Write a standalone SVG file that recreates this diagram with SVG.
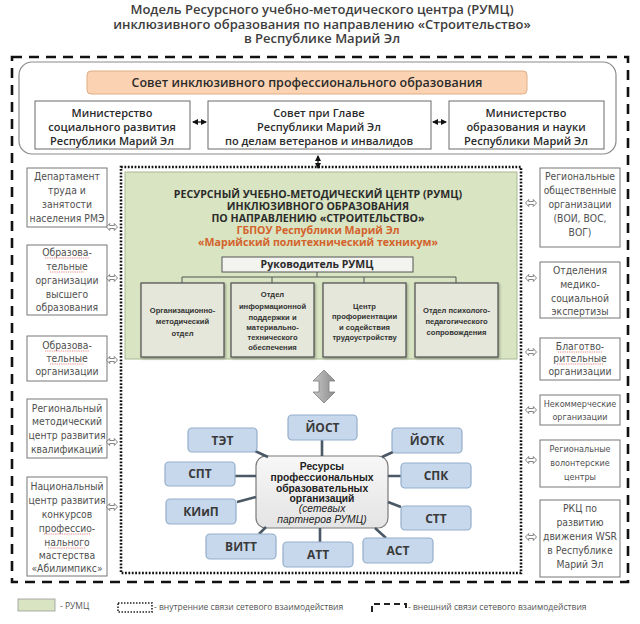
<svg xmlns="http://www.w3.org/2000/svg" width="640" height="624" viewBox="0 0 640 624">
<defs>
<style>
.title{font-family:"Open Sans","Liberation Sans",sans-serif;font-size:13px;font-weight:600;fill:#3d3d3d;text-anchor:middle}
.top{font-family:"Open Sans","Liberation Sans",sans-serif;font-size:11px;font-weight:600;fill:#2b2b2b;text-anchor:middle}
.council{font-family:"Open Sans","Liberation Sans",sans-serif;font-size:12.5px;font-weight:600;fill:#2b2b2b;text-anchor:middle}
.col{font-family:"Liberation Sans Narrow","DejaVu Sans Condensed","Liberation Sans",sans-serif;font-size:10.3px;fill:#505050;text-anchor:middle}
.cols{font-family:"Liberation Sans Narrow","DejaVu Sans Condensed","Liberation Sans",sans-serif;font-size:9px;fill:#505050;text-anchor:middle}
.hdr{font-family:"Open Sans","Liberation Sans",sans-serif;font-size:10.6px;font-weight:700;fill:#2b2b2b;text-anchor:middle}
.hdro{font-family:"Open Sans","Liberation Sans",sans-serif;font-size:10.6px;font-weight:700;fill:#d4622b;text-anchor:middle}
.dept{font-family:"Liberation Sans",sans-serif;font-size:7.6px;font-weight:700;fill:#333;text-anchor:middle}
.sat{font-family:"Open Sans","Liberation Sans",sans-serif;font-size:12px;font-weight:700;fill:#3a3a3a;text-anchor:middle}
.ctr{font-family:"Liberation Sans",sans-serif;font-size:10.3px;font-weight:700;fill:#222;text-anchor:middle}
.ctri{font-family:"Liberation Sans",sans-serif;font-size:10.3px;font-style:italic;fill:#222;text-anchor:middle}
.leg{font-family:"Open Sans","Liberation Sans",sans-serif;font-size:8.5px;fill:#555}
.box{fill:#fff;stroke:#6b6b6b;stroke-width:1}
.cbox{fill:#fff;stroke:#777;stroke-width:1}
.dbox{fill:#e4e7da;stroke:#4d4d4d;stroke-width:1.2}
.satb{fill:#c7d8ec;stroke:#93aecb;stroke-width:1.2}
.spoke{stroke:#4b5966;stroke-width:2.6;fill:none}
.tree{stroke:#555;stroke-width:1;fill:none}
.ha{fill:#fff;stroke:#666;stroke-width:0.8}
.wavy{fill:none;stroke:#d33;stroke-width:0.6;stroke-dasharray:1 0.8}
</style>
<marker id="ah" viewBox="0 0 6 6" refX="5" refY="3" markerWidth="5" markerHeight="5" orient="auto-start-reverse"><path d="M0,0 L6,3 L0,6 z" fill="#111"/></marker>
<path id="hdbl" d="M-5.5,0 L-2.3,-3.5 L-2.3,-1.5 L2.3,-1.5 L2.3,-3.5 L5.5,0 L2.3,3.5 L2.3,1.5 L-2.3,1.5 L-2.3,3.5 Z"/>
<linearGradient id="garr" x1="0" y1="0" x2="1" y2="0"><stop offset="0" stop-color="#c8c8c8"/><stop offset="0.5" stop-color="#a9a9a9"/><stop offset="1" stop-color="#8e8e8e"/></linearGradient>
<linearGradient id="gctr" x1="0" y1="0" x2="0" y2="1"><stop offset="0" stop-color="#f7f7f7"/><stop offset="1" stop-color="#e4e4e4"/></linearGradient>
<filter id="sh" x="-10%" y="-10%" width="130%" height="130%"><feDropShadow dx="1.2" dy="1.2" stdDeviation="0.8" flood-color="#000" flood-opacity="0.3"/></filter>
</defs>

<g id="title">
<text class="title" x="322" y="14">Модель Ресурсного учебно-методического центра (РУМЦ)</text>
<text class="title" x="322" y="28.5">инклюзивного образования по направлению «Строительство»</text>
<text class="title" x="322" y="43">в Республике Марий Эл</text>
</g>

<g id="outer-boundary">
<rect x="12" y="57" width="616" height="525" fill="none" stroke="#111" stroke-width="2.6" stroke-dasharray="10 7"/>
</g>
<g id="inner-boundary">
<rect x="121" y="167" width="400" height="406" fill="none" stroke="#111" stroke-width="2.6" stroke-dasharray="1.8 1.6"/>
</g>

<g id="governance">
<rect x="19" y="62" width="597" height="92" rx="13" fill="#fff" stroke="#8a8a8a" stroke-width="1.2"/>
</g>
<g id="council">
<rect x="87" y="71" width="440" height="23" rx="4" fill="#fbd3b2" stroke="#e0ad85" stroke-width="1"/>
<text class="council" x="307" y="87">Совет инклюзивного профессионального образования</text>
</g>
<g id="min-social">
<rect class="box" x="35" y="101" width="155" height="48"/>
<text class="top" x="112" y="117">Министерство</text>
<text class="top" x="112" y="131">социального развития</text>
<text class="top" x="112" y="145">Республики Марий Эл</text>
</g>
<g id="council-head">
<rect class="box" x="208" y="101" width="223" height="48"/>
<text class="top" x="319" y="117">Совет при Главе</text>
<text class="top" x="319" y="131">Республики Марий Эл</text>
<text class="top" x="319" y="145">по делам ветеранов и инвалидов</text>
</g>
<g id="min-edu">
<rect class="box" x="449" y="101" width="155" height="48"/>
<text class="top" x="526" y="117">Министерство</text>
<text class="top" x="526" y="131">образования и науки</text>
<text class="top" x="526" y="145">Республики Марий Эл</text>
</g>

<g id="rumc">
<rect x="125" y="172" width="392" height="187" fill="#d8e4c2" stroke="#a9b890" stroke-width="1"/>
<text class="hdr" x="318" y="198">РЕСУРСНЫЙ УЧЕБНО-МЕТОДИЧЕСКИЙ ЦЕНТР (РУМЦ)</text>
<text class="hdr" x="318" y="210">ИНКЛЮЗИВНОГО ОБРАЗОВАНИЯ</text>
<text class="hdr" x="318" y="222">ПО НАПРАВЛЕНИЮ «СТРОИТЕЛЬСТВО»</text>
<text class="hdro" x="318" y="233.5">ГБПОУ Республики Марий Эл</text>
<text class="hdro" x="318" y="245.5">«Марийский политехнический техникум»</text>
</g>
<g id="head-rumc">
<rect x="222" y="257" width="191" height="15" fill="#f3f3f0" stroke="#555" stroke-width="1"/>
<text class="hdr" x="317" y="268" style="font-size:10.5px">Руководитель РУМЦ</text>
</g>
<g id="dept1">
<rect class="dbox" x="141" y="283" width="83" height="74" filter="url(#sh)"/>
<text class="dept" x="182.5" y="313">Организационно-</text>
<text class="dept" x="182.5" y="324">методический</text>
<text class="dept" x="182.5" y="336">отдел</text>
</g>
<g id="dept2">
<rect class="dbox" x="231" y="283" width="83" height="74" filter="url(#sh)"/>
<text class="dept" x="272.5" y="297">Отдел</text>
<text class="dept" x="272.5" y="309">информационной</text>
<text class="dept" x="272.5" y="320">поддержки и</text>
<text class="dept" x="272.5" y="330">материально-</text>
<text class="dept" x="272.5" y="340">технического</text>
<text class="dept" x="272.5" y="350">обеспечения</text>
</g>
<g id="dept3">
<rect class="dbox" x="323" y="283" width="83" height="74" filter="url(#sh)"/>
<text class="dept" x="364.5" y="309">Центр</text>
<text class="dept" x="364.5" y="319">профориентации</text>
<text class="dept" x="364.5" y="330">и содействия</text>
<text class="dept" x="364.5" y="340">трудоустройству</text>
</g>
<g id="dept4">
<rect class="dbox" x="415" y="283" width="83" height="74" filter="url(#sh)"/>
<text class="dept" x="456.5" y="313">Отдел психолого-</text>
<text class="dept" x="456.5" y="324">педагогического</text>
<text class="dept" x="456.5" y="335">сопровождения</text>
</g>

<g id="left-col">
<g id="l1"><rect class="cbox" x="27" y="168" width="80" height="59"/>
<text class="col" x="67" y="180">Департамент</text><text class="col" x="67" y="194">труда и</text><text class="col" x="67" y="208">занятости</text><text class="col" x="67" y="222">населения РМЭ</text></g>
<g id="l2"><rect class="cbox" x="27" y="245" width="80" height="70"/>
<text class="col" x="67" y="256">Образова-</text><text class="col" x="67" y="270">тельные</text><text class="col" x="67" y="284">организации</text><text class="col" x="67" y="298">высшего</text><text class="col" x="67" y="311">образования</text>
<path class="wavy" d="M45,258 H89 M50,272 H84"/></g>
<g id="l3"><rect class="cbox" x="27" y="336" width="80" height="45"/>
<text class="col" x="67" y="349">Образова-</text><text class="col" x="67" y="362">тельные</text><text class="col" x="67" y="375">организации</text>
<path class="wavy" d="M45,351 H89 M50,364 H84"/></g>
<g id="l4"><rect class="cbox" x="27" y="399" width="80" height="59"/>
<text class="col" x="67" y="412">Региональный</text><text class="col" x="67" y="425">методический</text><text class="col" x="67" y="439">центр развития</text><text class="col" x="67" y="453">квалификаций</text></g>
<g id="l5"><rect class="cbox" x="27" y="477" width="80" height="99"/>
<text class="col" x="67" y="490">Национальный</text><text class="col" x="67" y="504">центр развития</text><text class="col" x="67" y="518">конкурсов</text><text class="col" x="67" y="532">профессио-</text><text class="col" x="67" y="546">нального</text><text class="col" x="67" y="559">мастерства</text><text class="col" x="67" y="572">«Абилимпикс»</text>
<path class="wavy" d="M44,534 H90 M48,548 H86"/></g>
</g>

<g id="right-col">
<g id="r1"><rect class="cbox" x="540" y="168" width="80" height="79"/>
<text class="col" x="580" y="180">Региональные</text><text class="col" x="580" y="194">общественные</text><text class="col" x="580" y="208">организации</text><text class="col" x="580" y="222">(ВОИ, ВОС,</text><text class="col" x="580" y="236">ВОГ)</text></g>
<g id="r2"><rect class="cbox" x="540" y="262" width="80" height="56"/>
<text class="col" x="580" y="274">Отделения</text><text class="col" x="580" y="288">медико-</text><text class="col" x="580" y="302">социальной</text><text class="col" x="580" y="315">экспертизы</text></g>
<g id="r3"><rect class="cbox" x="540" y="338" width="80" height="42"/>
<text class="col" x="580" y="350">Благотво-</text><text class="col" x="580" y="362">рительные</text><text class="col" x="580" y="375">организации</text>
<path class="wavy" d="M558,352 H602 M557,364 H603"/></g>
<g id="r4"><rect class="cbox" x="540" y="395" width="80" height="30"/>
<text class="cols" x="580" y="407">Некоммерческие</text><text class="cols" x="580" y="420">организации</text></g>
<g id="r5"><rect class="cbox" x="540" y="440" width="80" height="47"/>
<text class="cols" x="580" y="452">Региональные</text><text class="cols" x="580" y="466">волонтерские</text><text class="cols" x="580" y="480">центры</text></g>
<g id="r6"><rect class="cbox" x="540" y="500" width="80" height="77"/>
<text class="col" x="580" y="512">РКЦ по</text><text class="col" x="580" y="526">развитию</text><text class="col" x="580" y="540">движения WSR</text><text class="col" x="580" y="554">в Республике</text><text class="col" x="580" y="568">Марий Эл</text></g>
</g>

<g id="partners-center">
<rect x="256" y="456" width="132" height="72" rx="10" fill="url(#gctr)" stroke="#7a7a7a" stroke-width="1.2"/>
<text class="ctr" x="322" y="470">Ресурсы</text>
<text class="ctr" x="322" y="481">профессиональных</text>
<text class="ctr" x="322" y="492">образовательных</text>
<text class="ctr" x="322" y="502">организаций</text>
<text class="ctri" x="322" y="512">(сетевых</text>
<text class="ctri" x="322" y="523">партнеров РУМЦ)</text>
</g>

<g id="connectors">
<line x1="193" y1="122" x2="206" y2="122" stroke="#111" stroke-width="1.2" marker-start="url(#ah)" marker-end="url(#ah)"/>
<line x1="433" y1="122" x2="446" y2="122" stroke="#111" stroke-width="1.2" marker-start="url(#ah)" marker-end="url(#ah)"/>
<line x1="318" y1="156" x2="318" y2="168" stroke="#111" stroke-width="1.2" marker-start="url(#ah)" marker-end="url(#ah)"/>
<path class="tree" d="M317,272 V277 M182,283 V277 H456 V283 M272,277 V283 M364,277 V283"/>
<polygon points="324,370 335,381 329,381 329,392 335,392 324,403 313,392 319,392 319,381 313,381" fill="url(#garr)" stroke="#7d7d7d" stroke-width="0.8"/>
<path class="spoke" d="M322,440 V456 M255,451 L268,457 M382,457 L393,452 M235,476 H256 M388,476 H401 M237,502 L256,497 M388,502 L401,507 M259,534 L266,527 M320,528 V542 M375,528 L386,538"/>
<use href="#hdbl" class="ha" x="112" y="227"/>
<use href="#hdbl" class="ha" x="112" y="278"/>
<use href="#hdbl" class="ha" x="112" y="360"/>
<use href="#hdbl" class="ha" x="112" y="442"/>
<use href="#hdbl" class="ha" x="112" y="507"/>
<use href="#hdbl" class="ha" x="531" y="203"/>
<use href="#hdbl" class="ha" x="531" y="278"/>
<use href="#hdbl" class="ha" x="531" y="352"/>
<use href="#hdbl" class="ha" x="531" y="410"/>
<use href="#hdbl" class="ha" x="531" y="460"/>
<use href="#hdbl" class="ha" x="531" y="537"/>
</g>

<g id="sat-yost"><rect class="satb" x="288" y="415" width="69" height="25" rx="4"/><text class="sat" x="322.5" y="432">ЙОСТ</text></g>
<g id="sat-tet"><rect class="satb" x="188" y="428" width="69" height="24" rx="4"/><text class="sat" x="222.5" y="445">ТЭТ</text></g>
<g id="sat-yotk"><rect class="satb" x="392" y="428" width="70" height="25" rx="4"/><text class="sat" x="427" y="445">ЙОТК</text></g>
<g id="sat-spt"><rect class="satb" x="165" y="462" width="70" height="24" rx="4"/><text class="sat" x="200" y="478">СПТ</text></g>
<g id="sat-spk"><rect class="satb" x="401" y="463" width="70" height="25" rx="4"/><text class="sat" x="436" y="480">СПК</text></g>
<g id="sat-kiip"><rect class="satb" x="166" y="499" width="70" height="25" rx="4"/><text class="sat" x="201" y="516">КИиП</text></g>
<g id="sat-stt"><rect class="satb" x="401" y="506" width="70" height="24" rx="4"/><text class="sat" x="436" y="523">СТТ</text></g>
<g id="sat-vitt"><rect class="satb" x="206" y="534" width="70" height="25" rx="4"/><text class="sat" x="241" y="551">ВИТТ</text></g>
<g id="sat-att"><rect class="satb" x="283" y="542" width="70" height="25" rx="4"/><text class="sat" x="318" y="559">АТТ</text></g>
<g id="sat-ast"><rect class="satb" x="363" y="538" width="70" height="25" rx="4"/><text class="sat" x="398" y="555">АСТ</text></g>

<g id="legend">
<rect x="18" y="599" width="37" height="12" fill="#d8e4c2" stroke="#9a9a9a" stroke-width="0.8"/>
<text class="leg" x="60" y="609">- РУМЦ</text>
<rect x="118" y="603" width="34" height="9" fill="none" stroke="#222" stroke-width="1.6" stroke-dasharray="1.5 1.5"/>
<text class="leg" x="154" y="610">- внутренние связи сетевого взаимодействия</text>
<path d="M372,612 V604 H406 V612" fill="none" stroke="#222" stroke-width="2" stroke-dasharray="6 4"/>
<text class="leg" x="408" y="610">- внешний связи сетевого взаимодействия</text>
</g>
</svg>
